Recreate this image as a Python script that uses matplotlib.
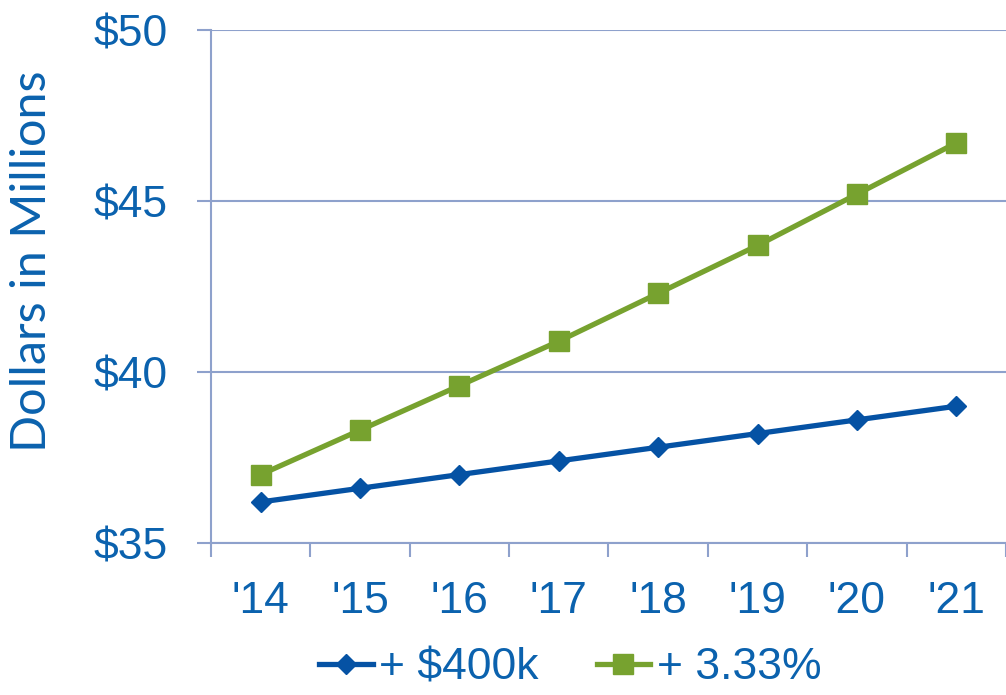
import numpy as np
import matplotlib
matplotlib.use("Agg")
import matplotlib.pyplot as plt

# data
years = ["'14", "'15", "'16", "'17", "'18", "'19", "'20", "'21"]
flat_400k = [36.2, 36.6, 37.0, 37.4, 37.8, 38.2, 38.6, 39.0]
pct_333 = [37.0, 38.3, 39.6, 40.9, 42.3, 43.7, 45.2, 46.7]
yticks = [35, 40, 45, 50]
ytick_labels = ["$35", "$40", "$45", "$50"]

text_blue = "#0B62AE"
line_blue = "#0552A4"
green = "#77A22F"
axis_col = "#8EA1CC"

plt.rcParams["font.family"] = ["Liberation Sans", "DejaVu Sans"]

fig = plt.figure(figsize=(10.06, 6.95), dpi=100)
ax = fig.add_axes([0.2097, 0.2187, 0.7903, 0.7381])

x = np.arange(len(years))
l1, = ax.plot(x, flat_400k, color=line_blue, lw=3.8, marker="D", ms=10,
              label="+ $400k", zorder=3)
l2, = ax.plot(x, pct_333, color=green, lw=3.8, marker="s", ms=14,
              label="+ 3.33%", zorder=3)

ax.set_xlim(-0.5, len(years) - 0.5)
ax.set_ylim(35, 50)

# major ticks on category boundaries, labels on the centres
ax.set_xticks(np.arange(-0.5, len(years) - 0.4, 1.0))
ax.set_xticklabels([])
ax.set_xticks(x, minor=True)
ax.set_xticklabels(years, minor=True)
ax.tick_params(axis="x", which="major", length=10, width=1.5, color=axis_col,
               direction="out")
ax.tick_params(axis="x", which="minor", length=0, pad=27, labelsize=32,
               labelcolor=text_blue)

ax.set_yticks(yticks)
ax.set_yticklabels(ytick_labels)
ax.tick_params(axis="y", length=10, width=1.5, color=axis_col, pad=21,
               labelsize=32, labelcolor=text_blue)

ax.yaxis.grid(True, color=axis_col, lw=1.5)
ax.set_axisbelow(True)
for s in ["top", "right"]:
    ax.spines[s].set_visible(False)
for s in ["left", "bottom"]:
    ax.spines[s].set_color(axis_col)
    ax.spines[s].set_linewidth(1.5)

fig.text(0.032, 0.624, "Dollars in Millions", rotation=90, ha="center",
         va="center", fontsize=35, color=text_blue, family=["Lato", "DejaVu Sans"])

leg = fig.legend(handles=[l1, l2], loc="center", bbox_to_anchor=(0.567, 0.039),
                 ncol=2, frameon=False, fontsize=32, handlelength=1.2,
                 handletextpad=0.15, columnspacing=1.3, borderaxespad=0)
for t in leg.get_texts():
    t.set_color(text_blue)

fig.savefig("out.png", dpi=100)
